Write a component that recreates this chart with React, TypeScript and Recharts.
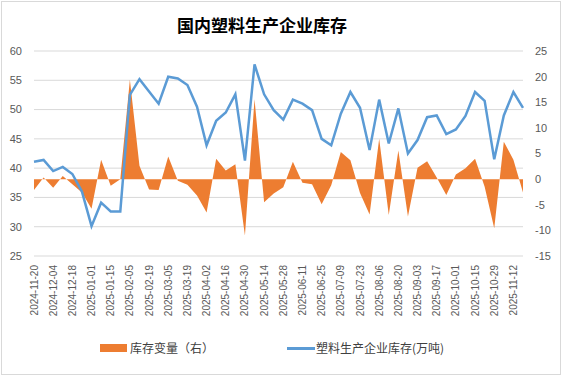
import React from "react";
import {
  Area,
  CartesianGrid,
  ComposedChart,
  Legend,
  Line,
  XAxis,
  YAxis,
} from "recharts";

const DATES = [
  "2024-11-20", "2024-11-27", "2024-12-04", "2024-12-11", "2024-12-18", "2024-12-25",
  "2025-01-01", "2025-01-08", "2025-01-15", "2025-01-22", "2025-02-05", "2025-02-12",
  "2025-02-19", "2025-02-26", "2025-03-05", "2025-03-12", "2025-03-19", "2025-03-26",
  "2025-04-02", "2025-04-09", "2025-04-16", "2025-04-23", "2025-04-30", "2025-05-07",
  "2025-05-14", "2025-05-21", "2025-05-28", "2025-06-04", "2025-06-11", "2025-06-18",
  "2025-06-25", "2025-07-02", "2025-07-09", "2025-07-16", "2025-07-23", "2025-07-30",
  "2025-08-06", "2025-08-13", "2025-08-20", "2025-08-27", "2025-09-03", "2025-09-10",
  "2025-09-17", "2025-09-24", "2025-10-01", "2025-10-08", "2025-10-15", "2025-10-22",
  "2025-10-29", "2025-11-05", "2025-11-12", "2025-11-19",
];

// 塑料生产企业库存(万吨), left axis
const INVENTORY = [
  41.1, 41.4, 39.5, 40.2, 39.0, 36.0, 30.1, 34.1, 32.6, 32.6, 52.5, 55.2,
  53.1, 51.0, 55.6, 55.3, 54.2, 50.5, 43.9, 48.1, 49.5, 52.6, 41.3, 57.7,
  52.6, 49.9, 48.3, 51.7, 51.0, 49.9, 45.0, 43.9, 49.3, 53.0, 50.3, 43.1,
  51.7, 44.2, 50.2, 42.5, 44.8, 48.7, 49.0, 45.8, 46.6, 48.9, 53.0, 51.5,
  41.5, 49.0, 53.0, 50.3,
];

// 库存变量（右）
const CHANGE = [
  -2.1, 0.3, -1.7, 0.6, -1.0, -2.6, -5.8, 3.8, -1.3, 0.0, 19.4, 2.6,
  -2.0, -2.1, 4.4, -0.3, -1.1, -3.2, -6.5, 4.0, 1.7, 2.9, -11.0, 15.6,
  -4.5, -2.8, -1.6, 3.4, -0.7, -1.0, -4.9, -1.2, 5.3, 3.7, -2.7, -6.9,
  7.9, -7.0, 5.6, -7.3, 2.2, 3.5, 0.3, -3.1, 0.9, 2.1, 4.0, -1.5,
  -9.6, 7.3, 3.8, -2.6,
];

const LEFT_TICKS = [25, 30, 35, 40, 45, 50, 55, 60];
const RIGHT_TICKS = [-15, -10, -5, 0, 5, 10, 15, 20, 25];

const data = DATES.map((d, i) => ({
  date: d,
  inventory: INVENTORY[i],
  change: CHANGE[i],
}));

const FONT = '"Liberation Sans", Arial, sans-serif';
const CJK = '"Noto Sans CJK SC", sans-serif';

function DateTick({ x, y, payload }: any) {
  return (
    <g transform={`translate(${x},${y + 1})`}>
      <text
        x={0}
        y={0}
        dy="0.35em"
        textAnchor="end"
        transform="rotate(-90)"
        fontSize={10}
        fontFamily={FONT}
        fill="#595959"
      >
        {payload.value}
      </text>
    </g>
  );
}

function LegendBox() {
  const txt = { position: "absolute" as const, top: 339, fontSize: 12, fontFamily: CJK, color: "#404040", lineHeight: "18px" };
  return (
    <div style={{ position: "relative", width: 562, height: 30 }}>
      <div style={{ position: "absolute", left: 100, top: 344, width: 27, height: 8, background: "#ed7d31" }} />
      <div style={{ ...txt, left: 130 }}>库存变量（右）</div>
      <div style={{ position: "absolute", left: 287, top: 347, width: 28, height: 3, background: "#5b9bd5" }} />
      <div style={{ ...txt, left: 316 }}>塑料生产企业库存(万吨)</div>
    </div>
  );
}

export default function App() {
  return (
    <div style={{ position: "fixed", left: 0, top: 0, width: 562, height: 376, background: "#fff" }}>
      <div
        style={{
          position: "absolute",
          left: 1,
          top: 1,
          width: 558,
          height: 372,
          border: "1px solid #d9d9d9",
          pointerEvents: "none",
        }}
      />
      <div
        style={{
          position: "absolute",
          left: 0,
          top: 12,
          width: 524,
          textAlign: "center",
          fontFamily: CJK,
          fontWeight: "bold",
          fontSize: 17,
          color: "#000",
        }}
      >
        国内塑料生产企业库存
      </div>
      <ComposedChart
        width={562}
        height={376}
        data={data}
        margin={{ top: 51, right: 0, left: 0, bottom: 50 }}
      >
        <CartesianGrid yAxisId="left" vertical={false} stroke="#d9d9d9" />
        <XAxis
          dataKey="date"
          interval={1}
          axisLine={false}
          tickLine={false}
          height={70}
          tick={<DateTick />}
        />
        <YAxis
          yAxisId="left"
          domain={[25, 60]}
          ticks={LEFT_TICKS}
          width={34}
          axisLine={false}
          tickLine={false}
          tickMargin={6}
          tick={{ fontSize: 11, fontFamily: FONT, fill: "#595959" }}
        />
        <YAxis
          yAxisId="right"
          orientation="right"
          domain={[-15, 25]}
          ticks={RIGHT_TICKS}
          width={39}
          axisLine={false}
          tickLine={false}
          tickMargin={6}
          tick={{ fontSize: 11, fontFamily: FONT, fill: "#595959", textAnchor: "start" }}
        />
        <Area
          yAxisId="right"
          dataKey="change"
          type="linear"
          baseValue={0}
          stroke="none"
          fill="#ed7d31"
          fillOpacity={1}
          isAnimationActive={false}
          name="库存变量（右）"
        />
        <Line
          yAxisId="left"
          dataKey="inventory"
          type="linear"
          stroke="#5b9bd5"
          strokeWidth={2.5}
          dot={false}
          isAnimationActive={false}
          name="塑料生产企业库存(万吨)"
        />
        <Legend
          verticalAlign="middle"
          align="center"
          content={<LegendBox />}
          wrapperStyle={{ top: 0, left: 0, width: 562, height: 376 }}
        />
      </ComposedChart>
    </div>
  );
}
